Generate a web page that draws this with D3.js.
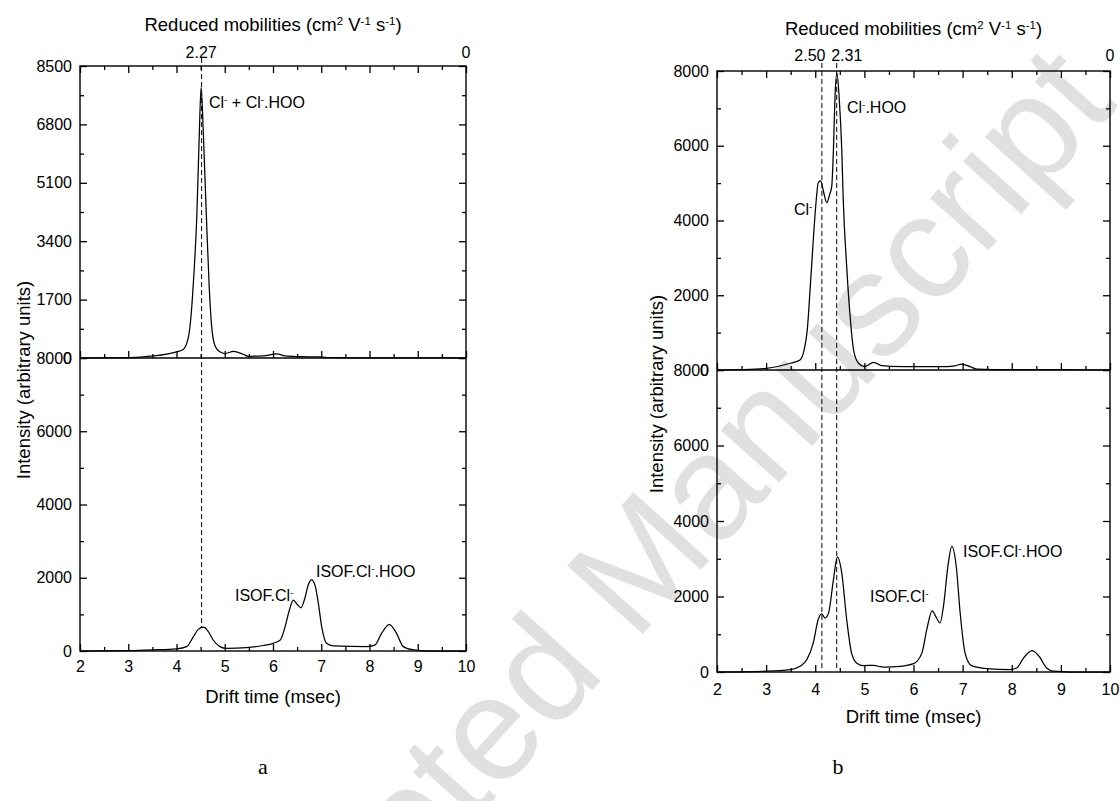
<!DOCTYPE html>
<html><head><meta charset="utf-8">
<script src="https://cdn.jsdelivr.net/npm/d3@7"></script>
<style>
body{margin:0;background:#fff}
text{font-family:"Liberation Sans",Arial,Helvetica,sans-serif;fill:#000}
</style>
</head><body>
<svg id="c" width="1120" height="801"></svg>
<script>
// ---------------- DATA ----------------
const driftTicks = [2, 3, 4, 5, 6, 7, 8, 9, 10];
const driftMinor = [2.5, 3.5, 4.5, 5.5, 6.5, 7.5, 8.5, 9.5];

// Panel a, upper spectrum
const aTopTime = [2, 2.5, 3.04, 3.51, 4.0, 4.14, 4.245, 4.30, 4.35, 4.42, 4.47, 4.51, 4.56, 4.62, 4.68, 4.73, 4.8, 4.9, 5.0, 5.18, 5.38, 5.49, 5.8, 6.08, 6.25, 6.56, 6.97, 7.2, 8, 9, 10];
const aTopIntensity = [0, 5, 10, 60, 180, 250, 600, 1200, 2200, 4100, 6400, 7880, 6400, 4100, 2000, 900, 350, 180, 130, 190, 110, 50, 60, 120, 60, 40, 30, 10, 5, 5, 0];
// Panel a, lower spectrum
const aBotTime = [2, 3.0, 3.51, 4.0, 4.21, 4.35, 4.45, 4.56, 4.66, 4.76, 4.9, 5.04, 5.45, 5.8, 6.0, 6.15, 6.25, 6.34, 6.42, 6.51, 6.58, 6.66, 6.73, 6.80, 6.87, 6.94, 7.01, 7.11, 7.25, 7.94, 8.11, 8.25, 8.41, 8.56, 8.70, 8.91, 9.2, 10];
const aBotIntensity = [0, 10, 30, 60, 120, 390, 590, 650, 530, 300, 120, 70, 90, 150, 210, 300, 660, 1120, 1390, 1260, 1180, 1440, 1800, 1940, 1800, 1300, 660, 210, 140, 120, 160, 480, 730, 480, 120, 30, 0, 0];
// Panel b, upper spectrum
const bTopTime = [2, 2.5, 3.01, 3.49, 3.69, 3.83, 3.89, 3.96, 4.02, 4.06, 4.11, 4.16, 4.235, 4.29, 4.335, 4.37, 4.40, 4.44, 4.49, 4.54, 4.57, 4.64, 4.71, 4.78, 4.88, 5.0, 5.19, 5.35, 5.53, 6.07, 6.68, 6.84, 6.99, 7.15, 7.29, 8, 9, 10];
const bTopIntensity = [0, 10, 45, 180, 268, 980, 2050, 3480, 4550, 5010, 5058, 4817, 4477, 4683, 4905, 5890, 7225, 7940, 7225, 5890, 4550, 2765, 1430, 535, 180, 90, 205, 115, 100, 89, 90, 110, 160, 90, 25, 10, 10, 0];
// Panel b, lower spectrum
const bBotTime = [2, 3.01, 3.49, 3.69, 3.83, 3.96, 4.06, 4.13, 4.20, 4.27, 4.37, 4.45, 4.54, 4.64, 4.74, 4.84, 4.98, 5.18, 5.39, 5.73, 6.0, 6.17, 6.27, 6.38, 6.47, 6.54, 6.61, 6.70, 6.78, 6.87, 6.95, 7.05, 7.18, 7.49, 7.96, 8.10, 8.24, 8.41, 8.56, 8.71, 8.85, 9.2, 10];
const bBotIntensity = [0, 20, 60, 150, 330, 770, 1390, 1540, 1430, 1560, 2440, 3050, 2620, 1390, 500, 240, 170, 175, 130, 150, 220, 500, 1120, 1620, 1430, 1300, 1740, 2800, 3330, 2800, 1560, 500, 170, 90, 60, 105, 370, 565, 410, 105, 20, 0, 0];

// Axis values
const aTopYTicks = [0, 1700, 3400, 5100, 6800, 8500];
const aTopYMinor = [850, 2550, 4250, 5950, 7650];
const aBotYTicks = [0, 2000, 4000, 6000, 8000];
const aBotYMinor = [1000, 3000, 5000, 7000];
const bTopYTicks = [0, 2000, 4000, 6000, 8000];
const bTopYMinor = [1000, 3000, 5000, 7000];
const bBotYTicks = [0, 2000, 4000, 6000, 8000];
const bBotYMinor = [1000, 3000, 5000, 7000];

// Reduced mobility markers (label, drift time)
const aMobLabels = ["2.27", "0"];
const aMobTimes = [4.51, 10];
const bMobLabels = ["2.50", "2.31", "0"];
const bMobTimes = [4.135, 4.437, 10];

// ---------------- LAYOUT ----------------
const svg = d3.select("#c");
const FS_TICK = 16, FS_TITLE = 18.5, FS_ANN = 16;

// watermark
svg.append("text")
  .attr("transform", "translate(617,583) rotate(-48)")
  .attr("text-anchor", "middle")
  .attr("dy", "0.36em")
  .style("font-size", "148px")
  .style("fill", "#e0e0e0")
  .text("Accepted Manuscript");

const panels = [
  { left: 80, right: 466, top: 66, mid: 358, bottom: 651,
    topMax: 8500, topTicks: aTopYTicks, topMinor: aTopYMinor,
    botMax: 8000, botTicks: aBotYTicks, botMinor: aBotYMinor,
    topT: aTopTime, topV: aTopIntensity, botT: aBotTime, botV: aBotIntensity,
    mobLabels: aMobLabels, mobTimes: aMobTimes, mobDx: [0, 0], mobY: 58,
    dashTimes: [4.52], dashEnd: [650],
    titleY: 31, xTickY: 672, xTitleY: 703, yTitleX: 30, yTitleY: 380,
    letter: "a", letterX: 263, letterY: 774 },
  { left: 717, right: 1110, top: 71, mid: 370, bottom: 672,
    topMax: 8000, topTicks: bTopYTicks, topMinor: bTopYMinor,
    botMax: 8000, botTicks: bBotYTicks, botMinor: bBotYMinor,
    topT: bTopTime, topV: bTopIntensity, botT: bBotTime, botV: bBotIntensity,
    mobLabels: bMobLabels, mobTimes: bMobTimes, mobDx: [-12, 10, 0], mobY: 61,
    dashTimes: [4.135, 4.437], dashEnd: [40, 40],
    titleY: 35, xTickY: 695, xTitleY: 723, yTitleX: 663, yTitleY: 394,
    letter: "b", letterX: 838, letterY: 774 }
];

function supText(sel, parts, fs) {
  parts.forEach(p => {
    const t = sel.append("tspan").text(p[0]);
    if (p[1]) t.attr("baseline-shift", "super").style("font-size", (fs * 0.62) + "px");
  });
}

panels.forEach(P => {
  const x = d3.scaleLinear().domain([2, 10]).range([P.left, P.right]);
  const yT = d3.scaleLinear().domain([0, P.topMax]).range([P.mid, P.top]);
  const yB = d3.scaleLinear().domain([0, P.botMax]).range([P.bottom, P.mid]);
  const g = svg.append("g");

  const style = s => {
    s.select(".domain").remove();
    s.selectAll("line").attr("stroke", "#000").attr("stroke-width", 1.3);
    s.selectAll("text").style("font-size", FS_TICK + "px").style("font-family", '"Liberation Sans",Arial,sans-serif');
  };

  g.append("g").attr("transform", `translate(${P.left},0)`)
    .call(d3.axisLeft(yT).tickValues(P.topTicks).tickSize(-7).tickPadding(8).tickFormat(d3.format("d"))).call(style);
  g.append("g").attr("transform", `translate(${P.left},0)`)
    .call(d3.axisLeft(yT).tickValues(P.topMinor).tickSize(-4).tickFormat("")).call(style);
  g.append("g").attr("transform", `translate(${P.left},0)`)
    .call(d3.axisLeft(yB).tickValues(P.botTicks).tickSize(-7).tickPadding(8).tickFormat(d3.format("d"))).call(style);
  g.append("g").attr("transform", `translate(${P.left},0)`)
    .call(d3.axisLeft(yB).tickValues(P.botMinor).tickSize(-4).tickFormat("")).call(style);
  [[yT, P.topTicks, 7], [yT, P.topMinor, 4], [yB, P.botTicks, 7], [yB, P.botMinor, 4]].forEach(([sc, tv, sz]) => {
    g.append("g").attr("transform", `translate(${P.right},0)`)
      .call(d3.axisRight(sc).tickValues(tv).tickSize(-sz).tickFormat("")).call(style);
  });
  g.append("g").attr("transform", `translate(0,${P.top})`)
    .call(d3.axisTop(x).tickValues(driftTicks).tickSize(-7).tickFormat("")).call(style);
  g.append("g").attr("transform", `translate(0,${P.top})`)
    .call(d3.axisTop(x).tickValues(driftMinor).tickSize(-4).tickFormat("")).call(style);
  g.append("g").attr("transform", `translate(0,${P.mid})`)
    .call(d3.axisBottom(x).tickValues(driftTicks).tickSize(-7).tickFormat("")).call(style);
  g.append("g").attr("transform", `translate(0,${P.mid})`)
    .call(d3.axisBottom(x).tickValues(driftMinor).tickSize(-4).tickFormat("")).call(style);
  const bx = g.append("g").attr("transform", `translate(0,${P.bottom})`)
    .call(d3.axisBottom(x).tickValues(driftTicks).tickSize(-7).tickPadding(0).tickFormat(d3.format("d"))).call(style);
  bx.selectAll("text").attr("y", P.xTickY - P.bottom).attr("dy", 0);
  g.append("g").attr("transform", `translate(0,${P.bottom})`)
    .call(d3.axisBottom(x).tickValues(driftMinor).tickSize(-4).tickFormat("")).call(style);

  g.append("rect").attr("x", P.left).attr("y", P.top).attr("width", P.right - P.left).attr("height", P.bottom - P.top)
    .attr("fill", "none").attr("stroke", "#000").attr("stroke-width", 1.4);
  g.append("line").attr("x1", P.left).attr("x2", P.right).attr("y1", P.mid).attr("y2", P.mid)
    .attr("stroke", "#000").attr("stroke-width", 1.4);

  P.dashTimes.forEach((t, i) => {
    g.append("line").attr("x1", x(t)).attr("x2", x(t)).attr("y1", P.top - 8).attr("y2", yB(P.dashEnd[i]))
      .attr("stroke", "#000").attr("stroke-width", 1).attr("stroke-dasharray", "5,3");
  });

  P.mobTimes.forEach((t, i) => {
    g.append("text").attr("x", x(t) + P.mobDx[i]).attr("y", P.mobY).attr("text-anchor", "middle")
      .style("font-size", FS_TICK + "px").text(P.mobLabels[i]);
  });

  const line = (sc) => d3.line().x(d => x(d[0])).y(d => sc(d[1])).curve(d3.curveMonotoneX);
  g.append("path").datum(d3.zip(P.topT, P.topV)).attr("d", line(yT))
    .attr("fill", "none").attr("stroke", "#000").attr("stroke-width", 1.25);
  g.append("path").datum(d3.zip(P.botT, P.botV)).attr("d", line(yB))
    .attr("fill", "none").attr("stroke", "#000").attr("stroke-width", 1.25);

  const tt = g.append("text").attr("x", (P.left + P.right) / 2).attr("y", P.titleY).attr("text-anchor", "middle")
    .style("font-size", FS_TITLE + "px");
  supText(tt, [["Reduced mobilities (cm"], ["2", 1], [" V"], ["-1", 1], [" s"], ["-1", 1], [")"]], FS_TITLE);
  g.append("text").attr("x", (P.left + P.right) / 2).attr("y", P.xTitleY).attr("text-anchor", "middle")
    .style("font-size", FS_TITLE + "px").text("Drift time (msec)");
  g.append("text").attr("transform", `translate(${P.yTitleX},${P.yTitleY}) rotate(-90)`).attr("text-anchor", "middle")
    .style("font-size", FS_TITLE + "px").text("Intensity (arbitrary units)");
  g.append("text").attr("x", P.letterX).attr("y", P.letterY).attr("text-anchor", "middle")
    .style("font-family", '"Liberation Serif","Times New Roman",serif').style("font-size", "22px").text(P.letter);
});

function ann(x, y, parts) {
  const t = svg.append("text").attr("x", x).attr("y", y).style("font-size", FS_ANN + "px");
  supText(t, parts, FS_ANN);
}
ann(209, 108, [["Cl"], ["-", 1], [" + Cl"], ["-", 1], [".HOO"]]);
ann(235, 601, [["ISOF.Cl"], ["-", 1]]);
ann(316, 577, [["ISOF.Cl"], ["-", 1], [".HOO"]]);
ann(847, 113, [["Cl"], ["-", 1], [".HOO"]]);
ann(794, 215, [["Cl"], ["-", 1]]);
ann(870, 602, [["ISOF.Cl"], ["-", 1]]);
ann(963, 557, [["ISOF.Cl"], ["-", 1], [".HOO"]]);
</script>
</body></html>
